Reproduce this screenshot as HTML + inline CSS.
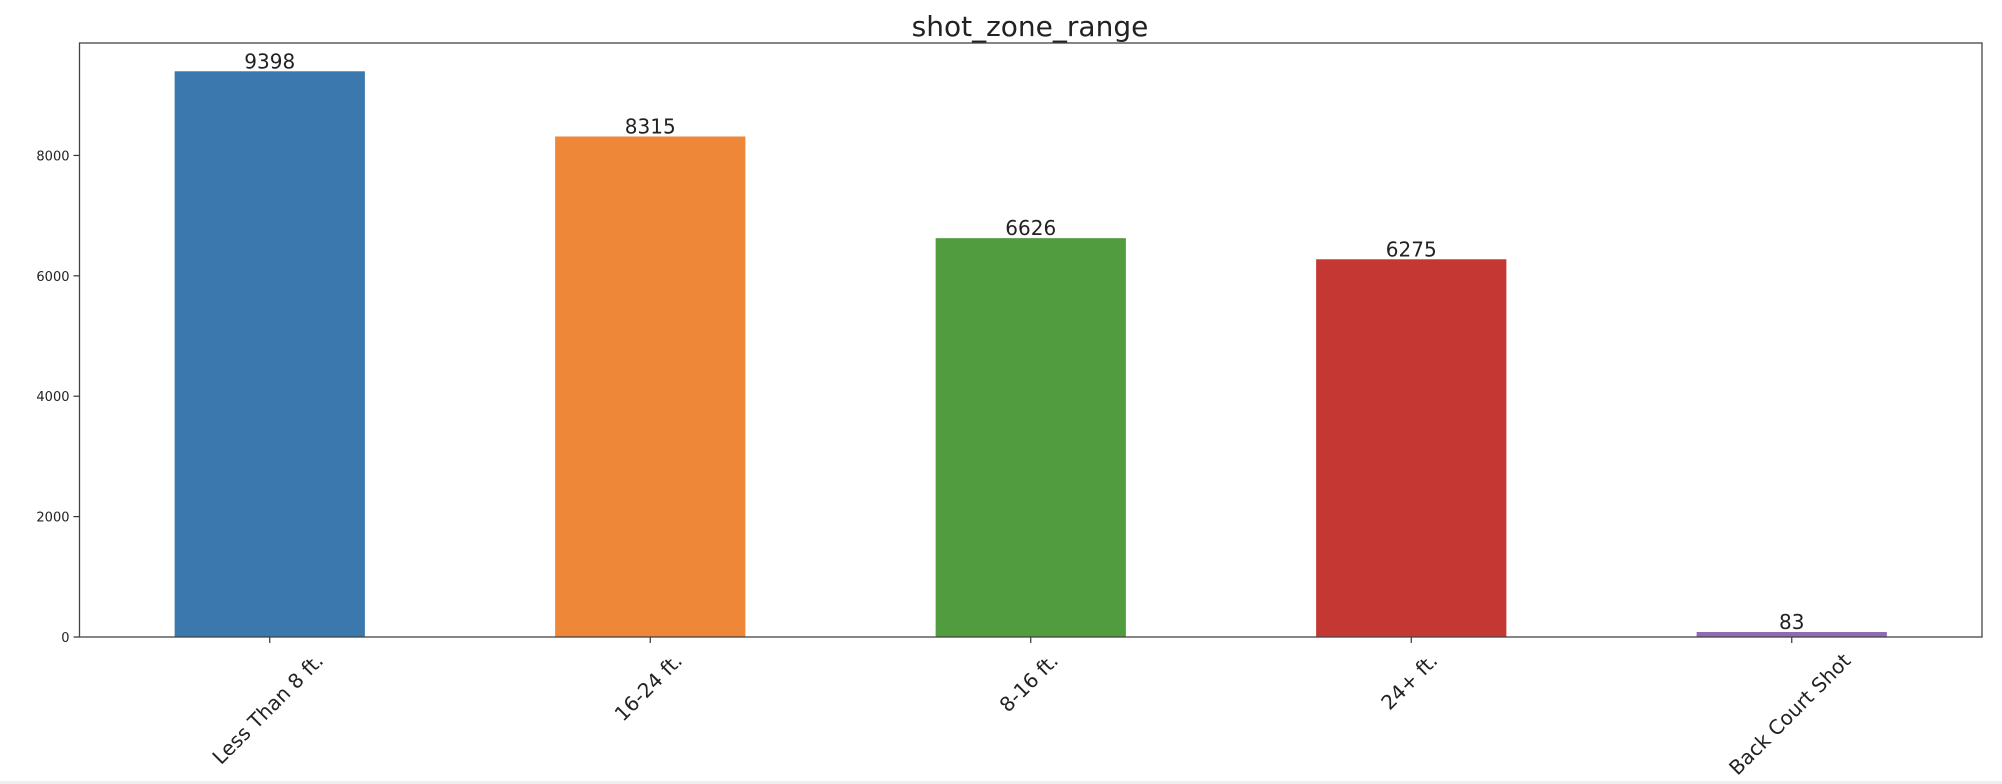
<!DOCTYPE html>
<html><head><meta charset="utf-8"><style>
html,body{margin:0;padding:0;background:#fff;}
svg{display:block;font-family:"DejaVu Sans","Liberation Sans",sans-serif;}
</style></head><body>
<svg id="chart" width="2002" height="784">
<rect x="0" y="781" width="2002" height="3" fill="#eeeeee"/>
<text x="1030" y="36" font-size="28" text-anchor="middle" fill="#222">shot_zone_range</text>
<g id="bars"></g>
<g id="axes"></g>
</svg>
<script>
const categories = ["Less Than 8 ft.", "16-24 ft.", "8-16 ft.", "24+ ft.", "Back Court Shot"];
const values = [9398, 8315, 6626, 6275, 83];
const colors = ["#3a78ad", "#ee8737", "#519c3f", "#c43732", "#8f6bb6"];
const yTicks = [0, 2000, 4000, 6000, 8000];

const L = 79.5, R = 1982, T = 43, B = 637;
const yMax = Math.max(...values) * 1.05;
const n = categories.length;
const step = (R - L) / n;
const xc = i => L + step * (i + 0.5);
const y = v => B - (v / yMax) * (B - T);
const NS = "http://www.w3.org/2000/svg";
const bars = document.getElementById('bars');
const axes = document.getElementById('axes');
function mk(tag, attrs, parent) {
  const e = document.createElementNS(NS, tag);
  for (const k in attrs) e.setAttribute(k, attrs[k]);
  parent.appendChild(e);
  return e;
}
const bw = step * 0.5;
values.forEach((v, i) => {
  const r = mk('rect', {x: xc(i) - bw / 2, y: y(v), width: bw, height: B - y(v), fill: colors[i]}, bars);
  
  
  const t = mk('text', {x: xc(i), y: y(v) - 3, 'font-size': 20, 'text-anchor': 'middle', fill: '#222'}, bars);
  t.textContent = v;
  
  
  mk('line', {x1: xc(i), x2: xc(i), y1: B, y2: B + 6, stroke: '#333', 'stroke-width': 1.2}, axes);
  const xl = mk('text', {x: 0, y: 0, 'font-size': 20, 'text-anchor': 'middle', fill: '#222', dy: '0.35em'}, axes);
  xl.textContent = categories[i];
  
  
  const len = xl.getComputedTextLength();
  const cx = xc(i) - 2, cy = B + 20 + len / 2 * 0.707;
  xl.setAttribute('transform', `translate(${cx} ${cy}) rotate(-45)`);
});
yTicks.forEach(v => {
  mk('line', {x1: L - 6, x2: L, y1: y(v), y2: y(v), stroke: '#333', 'stroke-width': 1.2}, axes);
  const t = mk('text', {x: L - 10, y: y(v) + 5, 'font-size': 13, 'text-anchor': 'end', fill: '#222'}, axes);
  t.textContent = v;
  
  
});
const frame = mk('rect', {x: L, y: T, width: R - L, height: B - T, fill: 'none', stroke: '#444', 'stroke-width': 1.3}, axes);


</script>
</body></html>
